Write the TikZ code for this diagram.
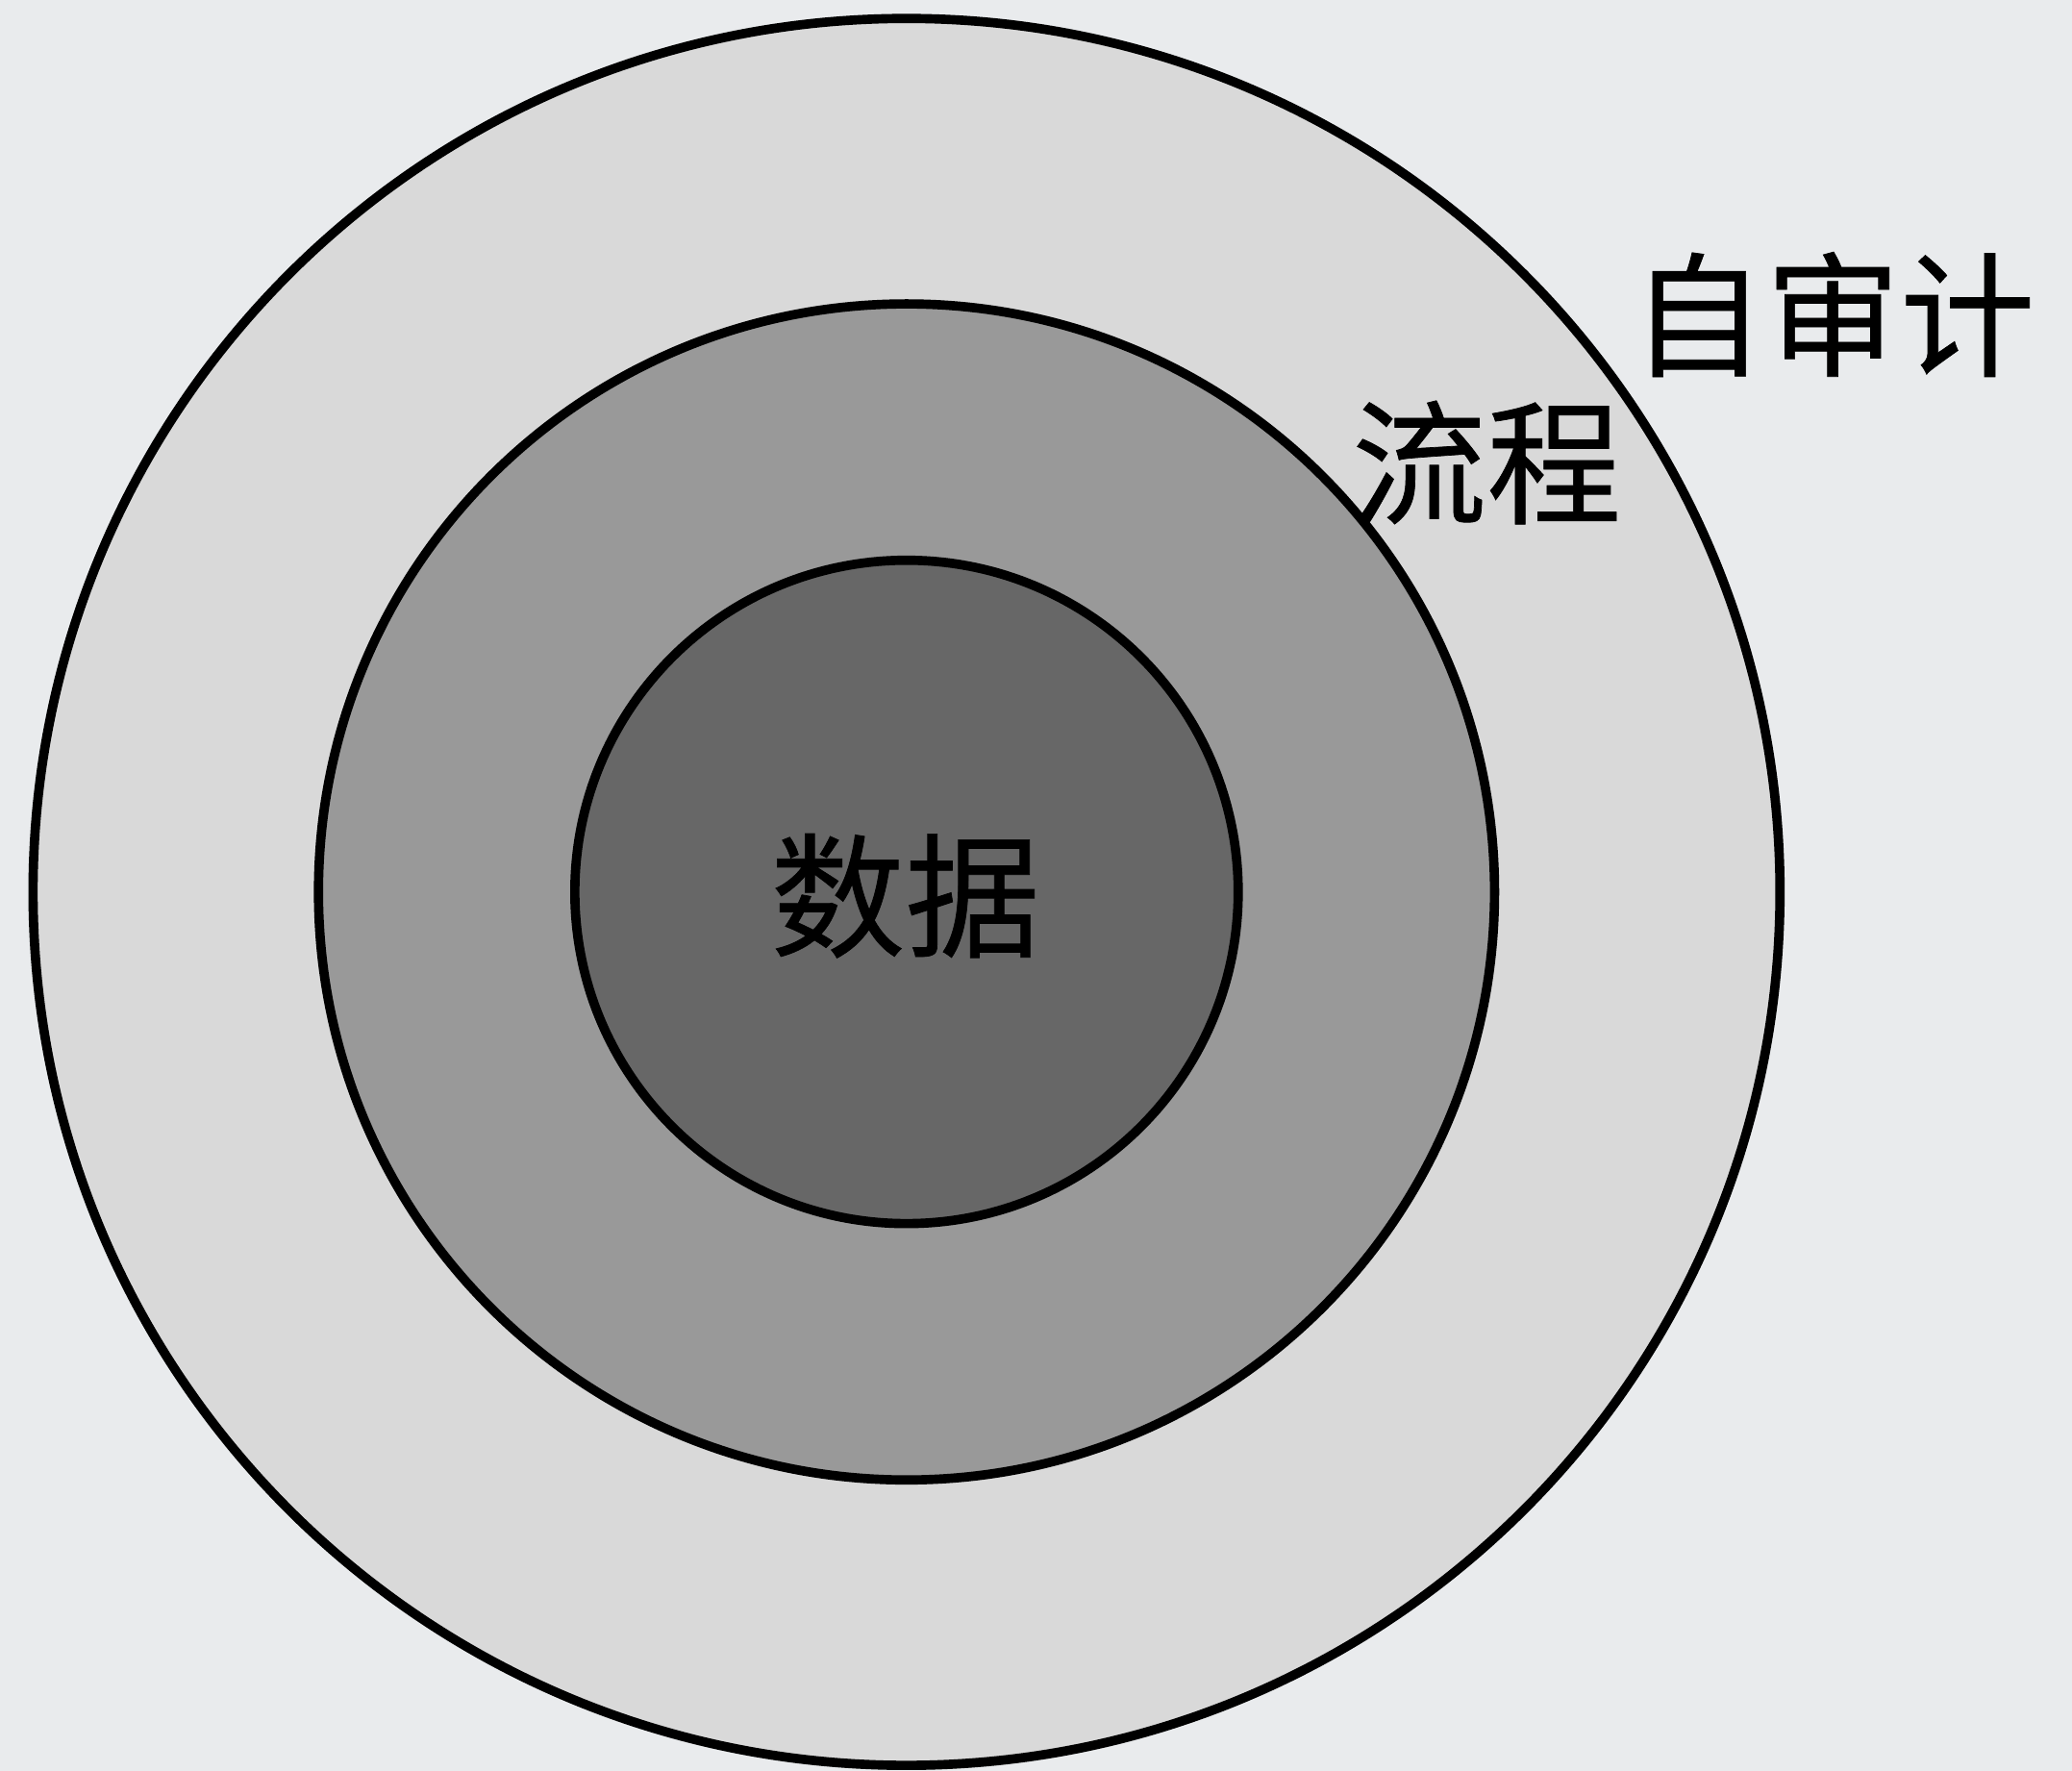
\documentclass[tikz,border=0pt]{standalone}
\usepackage{fontspec}
\usepackage{xcolor}
\usepackage{tikz}
\usetikzlibrary{shapes,positioning}
\newfontfamily\cjk[FakeBold=0.5]{Noto Sans CJK SC}

\definecolor{pagebg}{HTML}{E9EBED}
\definecolor{ringout}{HTML}{D9D9D9}
\definecolor{ringmid}{HTML}{999999}
\definecolor{ringin}{HTML}{676767}

\begin{document}
\begin{tikzpicture}[auto]
                    % Define styles
                    \tikzstyle{ring} = [circle, draw=black, line width=2pt, inner sep=0pt]
                    \tikzstyle{label} = [font=\cjk\fontsize{29}{32}\selectfont, text=black, inner sep=0pt]

                    % Background and page size
                    \fill [pagebg] (0,0) rectangle (15.68,13.40);
                    \useasboundingbox (0,0) rectangle (15.68,13.40);

                    % Three rings, drawn from outside in
                    \node [ring, fill=ringout, minimum size=13.22cm] (audit) at (6.86,6.65) {};
                    \node [ring, fill=ringmid, minimum size=8.90cm] (process) at (audit.center) {};
                    \node [ring, fill=ringin, minimum size=5.02cm] (data) at (audit.center) {};

                    % Ring labels
                    \node [label] (datatext) at (6.85,6.62) {数据};
                    \node [label] (processtext) at (11.25,9.90) {流程};
                    \node [label] (audittext) at (13.87,11.02) {自审计};
                \end{tikzpicture}
\end{document}
